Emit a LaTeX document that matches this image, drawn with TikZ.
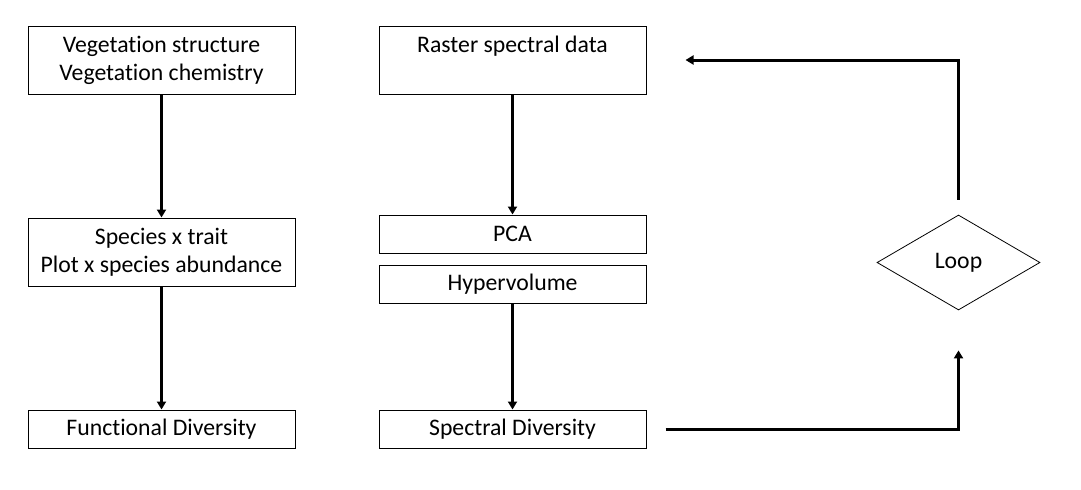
\documentclass[tikz,border=0pt]{standalone}
\usepackage{fontspec}
\setmainfont{Carlito}[Ligatures=NoCommon]
\usetikzlibrary{arrows.meta,shapes.geometric}

\tikzset{
  stepbox/.style={draw, line width=0.75pt, rectangle, inner sep=0pt, align=center,
    minimum width=200.25pt, font=\fontsize{17.8}{21}\selectfont},
  tallbox/.style={stepbox, minimum height=51pt},
  flatbox/.style={stepbox, minimum height=28.5pt},
  flow/.style={line width=2.25pt, -{Triangle[length=6pt,width=6.75pt]}}
}

\begin{document}
\begin{tikzpicture}[x=0.75pt,y=0.75pt,yscale=-1,xscale=1]
\useasboundingbox (0,0) rectangle (1081,489);

% Boxes, left column
\node [tallbox] (veg) at (161.5,60) {Vegetation structure\\Vegetation chemistry};
\node [tallbox] (spec) at (161.5,252) {Species x trait\\Plot x species abundance};
\node [flatbox] (fd) at (161.5,429) {Functional Diversity};

% Boxes, right column
\node [stepbox, text height=19.5pt, text depth=31.5pt] (raster) at (512.5,60) {Raster spectral data};
\node [flatbox] (pca) at (512.5,234) {PCA};
\node [flatbox] (hyp) at (512.5,284) {Hypervolume};
\node [flatbox] (sd) at (512.5,429) {Spectral Diversity};

%Shape: Diamond
\node [draw, line width=0.6pt, diamond, aspect=1.72, inner sep=0pt, minimum width=122.25pt,
  minimum height=71.25pt, font=\fontsize{17.8}{21}\selectfont] (loop) at (958.5,262.5) {Loop};

%Straight Lines
\draw [flow] (veg) -- (spec);
\draw [flow] (spec) -- (fd);
\draw [flow] (raster) -- (pca);
\draw [flow] (hyp) -- (sd);
%Elbow Lines
\draw [flow, shorten <=14.25pt, shorten >=30pt] (sd.east) -| (loop.south);
\draw [flow, shorten <=11.25pt, shorten >=29.25pt] (loop.north) |- (raster.east);

\end{tikzpicture}
\end{document}
